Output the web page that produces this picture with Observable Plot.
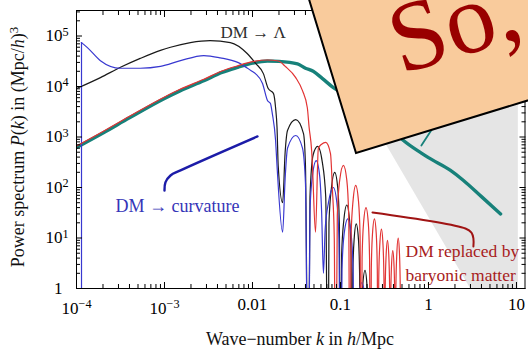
<!DOCTYPE html>
<html><head><meta charset="utf-8">
<script src="https://cdn.jsdelivr.net/npm/d3@7"></script>
<script src="https://cdn.jsdelivr.net/npm/@observablehq/plot@0.6"></script>
<style>
body{margin:0;background:#fff;}
#wrap{position:relative;width:528px;height:350px;overflow:hidden;background:#fff;}
#overlay{position:absolute;left:0;top:0;}
</style></head><body><div id="wrap"></div>
<script>
// ---- data (k in h/Mpc, P in (Mpc/h)^3) ----
const tealK = [1e-4, 2e-4, 4e-4, 1e-3, 1.5e-3, 2.8e-3, 4.5e-3, 6.8e-3, 0.01, 0.0148, 0.02, 0.0325, 0.04, 0.049, 0.062, 0.083, 0.11, 0.16, 0.25, 0.4, 0.52, 0.83, 1.0, 1.78, 2.5, 4.0, 6.6];
const tealP = [620, 1200, 2400, 5800, 8200, 13000, 19000, 24000, 29000, 32000, 31500, 28000, 23000, 20000, 14500, 9500, 7000, 4500, 2400, 1300, 850, 480, 390, 218, 138, 66, 30];

const redK = [1e-4, 2e-4, 4e-4, 1e-3, 1.5e-3, 2.8e-3, 4.5e-3, 6.8e-3, 0.01, 0.0148, 0.0197, 0.0236, 0.031, 0.037, 0.042, 0.044, 0.047, 0.048, 0.052,
  0.056, 0.061, 0.068, 0.077, 0.081, 0.085, 0.088,
  0.092, 0.098, 0.108, 0.118, 0.124, 0.128,
  0.132, 0.139, 0.149, 0.16, 0.167, 0.171,
  0.176, 0.183, 0.195, 0.207, 0.214, 0.219,
  0.224, 0.231, 0.243, 0.255, 0.262, 0.267,
  0.272, 0.28, 0.292, 0.304, 0.312, 0.317,
  0.322, 0.33, 0.342, 0.354, 0.362, 0.367,
  0.372, 0.38, 0.393, 0.406, 0.414, 0.42,
  0.426, 0.437, 0.453, 0.468, 0.478, 0.485, 0.55];
const redP = [665, 1290, 2570, 6200, 8800, 13900, 20300, 25700, 31000, 33500, 32000, 25000, 15000, 8300, 3800, 1550, 540, 270, 13,
  590, 720, 780, 470, 90, 10, 0.001,
  28, 140, 275, 140, 28, 0.001,
  11, 55, 110, 55, 11, 0.001,
  4, 20, 40, 20, 4, 0.001,
  2.4, 12, 24, 12, 2.4, 0.001,
  1.5, 7.5, 15, 7.5, 1.5, 0.001,
  0.9, 4.5, 9, 4.5, 0.9, 0.001,
  0.56, 2.8, 5.6, 2.8, 0.56, 0.001,
  1, 5, 10, 5, 1, 0.001, 0.0001];

const blackK = [1e-4, 1.87e-4, 3.16e-4, 5.3e-4, 9e-4, 1.17e-3, 1.97e-3, 3.3e-3, 5.6e-3, 8.7e-3, 0.0108, 0.0133, 0.0151, 0.0173, 0.0183, 0.019, 0.0196, 0.022,
  0.0235, 0.025, 0.031, 0.038, 0.04, 0.043,
  0.045, 0.049, 0.055, 0.062, 0.068, 0.072,
  0.074, 0.079, 0.086, 0.093, 0.097, 0.1,
  0.103, 0.109, 0.118, 0.127, 0.132, 0.135,
  0.138, 0.143, 0.151, 0.16, 0.165, 0.168,
  0.172, 0.179, 0.19, 0.2, 0.206, 0.21, 0.25];
const blackP = [9100, 15000, 24000, 36000, 52000, 60000, 74000, 81000, 74000, 45000, 29000, 18000, 9100, 7300, 3800, 1550, 270, 50,
  500, 1350, 2200, 1170, 270, 0.001,
  65, 450, 650, 325, 65, 0.001,
  20, 100, 200, 100, 20, 0.001,
  4.5, 22, 45, 22, 4.5, 0.001,
  1.9, 9.5, 19, 9.5, 1.9, 0.001,
  0.23, 1.15, 2.3, 1.15, 0.23, 0.001, 0.0001];

const blueK = [1.14e-4, 1.33e-4, 1.87e-4, 3.16e-4, 5.3e-4, 9e-4, 1.52e-3, 2.8e-3, 4.3e-3, 6.8e-3, 9.5e-3, 0.0108, 0.013, 0.0148, 0.016, 0.0168, 0.0183, 0.019, 0.022,
  0.0235, 0.025, 0.031, 0.037, 0.04, 0.043,
  0.045, 0.048, 0.053, 0.058, 0.061, 0.064,
  0.067, 0.073, 0.083, 0.091, 0.096, 0.1,
  0.104, 0.11, 0.121, 0.132, 0.139, 0.145,
  0.15, 0.16, 0.175, 0.19, 0.2, 0.21, 0.25];
const blueP = [74000, 59000, 32500, 23000, 23000, 25000, 32500, 41000, 37000, 30000, 21000, 18000, 11500, 5300, 4600, 2900, 850, 270, 13,
  150, 600, 1070, 600, 120, 0.001,
  34, 170, 340, 170, 34, 2,
  15, 50, 100, 50, 10, 0.001,
  2.4, 12, 24, 12, 2.4, 0.001,
  0.13, 0.65, 1.3, 0.65, 0.13, 0.001, 0.0001];
const blueEdgeK = [1.14e-4, 1.14e-4];
const blueEdgeP = [0.5, 74000];

// annotation pointer lines
const bluePtrK = [1e-3, 1.025e-3, 1.17e-3, 1.52e-3, 0.0114];
const bluePtrP = [87, 126, 173, 218, 1025];
const redPtrK = [0.231, 2.63, 3.08, 3.24, 3.24];
const redPtrP = [32, 15.4, 12.8, 9.8, 6.8];
const tealPtrK = [0.83, 1.11];
const tealPtrP = [680, 1470];

// shaded band
const bandK = [0.316, 3.0, 10.5];
const bandLo = [815, 1, 1];

// annotations
const annoText = ["DM \u2192 \u039b", "DM \u2192 curvature", "DM replaced by\nbaryonic matter"];
const annoK = [4.33e-3, 2.77e-4, 0.548];
const annoP = [9.3e4, 32, 1.44];

// ticks
const xTickValues = [1e-4, 1e-3, 0.01, 0.1, 1, 10];
const xTickLabels = ["10^\u22124", "10^\u22123", "0.01", "0.1", "1", "10"];
const yTickValues = [1, 10, 100, 1e3, 1e4, 1e5];
const yTickLabels = ["1", "10^1", "10^2", "10^3", "10^4", "10^5"];

const xMax = 12.5, yMax = 3.2e5;
const xMinor = [];
for (let e = -4; e <= 1; e++) for (let m = 2; m <= 9; m++) { const v = m * Math.pow(10, e); if (v < xMax) xMinor.push(v); }
const yMinor = [];
for (let e = 0; e <= 5; e++) for (let m = 2; m <= 9; m++) { const v = m * Math.pow(10, e); if (v < yMax) yMinor.push(v); }

const zip = (K, P) => K.map((k, i) => ({k, P: P[i]}));
const teal = zip(tealK, tealP), red = zip(redK, redP), black = zip(blackK, blackP), blue = zip(blueK, blueP);
const band = bandK.map((k, i) => ({k, lo: bandLo[i], hi: yMax}));
const anno = annoText.map((t, i) => ({t, k: annoK[i], P: annoP[i]}));

const lineOpts = {x: "k", y: "P", clip: true, curve: "monotone-x", strokeLinejoin: "round"};

const plot = Plot.plot({
  width: 528, height: 350,
  marginLeft: 76, marginRight: 3.5, marginTop: 10, marginBottom: 62,
  x: {type: "log", domain: [1e-4, xMax], label: null},
  y: {type: "log", domain: [1, yMax], label: null},
  style: {fontFamily: "Liberation Serif", fontSize: "17px", background: "white", color: "black"},
  marks: [
    Plot.areaY(band, {x: "k", y1: "lo", y2: "hi", fill: "#e5e5e5", clip: true}),
    Plot.line(teal, {...lineOpts, stroke: "#17817a", strokeWidth: 3.4}),
    Plot.line(black, {...lineOpts, stroke: "#1a1a1a", strokeWidth: 1.2}),
    Plot.line(blue, {...lineOpts, stroke: "#3838d0", strokeWidth: 1.2}),
    Plot.line(zip(blueEdgeK, blueEdgeP), {x: "k", y: "P", clip: true, stroke: "#3838d0", strokeWidth: 1.2}),
    Plot.line(red, {...lineOpts, stroke: "#e23434", strokeWidth: 1.2}),
    Plot.line(zip(bluePtrK, bluePtrP), {x: "k", y: "P", curve: "catmull-rom", stroke: "#1c1ca8", strokeWidth: 2.4, strokeLinecap: "round"}),
    Plot.line(zip(redPtrK, redPtrP), {x: "k", y: "P", curve: "catmull-rom", stroke: "#a01414", strokeWidth: 2, strokeLinejoin: "round"}),
    Plot.line(zip(tealPtrK, tealPtrP), {x: "k", y: "P", stroke: "#17817a", strokeWidth: 1.8}),
    Plot.text([anno[0]], {x: "k", y: "P", text: "t", textAnchor: "start", lineAnchor: "bottom", fontSize: 17, fill: "#2e2e2e"}),
    Plot.text([anno[1]], {x: "k", y: "P", text: "t", textAnchor: "start", lineAnchor: "bottom", fontSize: 18, fill: "#3535b8"}),
    Plot.text([anno[2]], {x: "k", y: "P", text: "t", textAnchor: "start", lineAnchor: "bottom", fontSize: 17.5, lineHeight: 1.36, fill: "#a81c1c"}),
    Plot.frame({stroke: "#000", strokeWidth: 1}),
    Plot.axisX({anchor: "bottom", ticks: xMinor, tickSize: 4, dy: -4, text: null, label: null}),
    Plot.axisX({anchor: "top", ticks: xMinor, tickSize: 4, dy: 4, text: null, label: null}),
    Plot.axisX({anchor: "bottom", ticks: xTickValues, tickSize: 6, dy: -6, text: null, label: null}),
    Plot.axisX({anchor: "top", ticks: xTickValues, tickSize: 6, dy: 6, text: null, label: null}),
    Plot.axisX({anchor: "bottom", ticks: xTickValues, tickSize: 0, tickPadding: 9, fontSize: 17, label: null,
      tickFormat: d => xTickLabels[xTickValues.indexOf(d)]}),
    Plot.axisY({anchor: "left", ticks: yMinor, tickSize: 4, dx: 4, text: null, label: null}),
    Plot.axisY({anchor: "right", ticks: yMinor, tickSize: 4, dx: -4, text: null, label: null}),
    Plot.axisY({anchor: "left", ticks: yTickValues, tickSize: 6, dx: 6, text: null, label: null}),
    Plot.axisY({anchor: "right", ticks: yTickValues, tickSize: 6, dx: -6, text: null, label: null}),
    Plot.axisY({anchor: "left", ticks: yTickValues, tickSize: 0, tickPadding: 8, fontSize: 17, label: null,
      tickFormat: d => yTickLabels[yTickValues.indexOf(d)]})
  ]
});
document.getElementById("wrap").appendChild(plot);

const svg = d3.select(plot);
// superscripts in tick labels
svg.selectAll('g[aria-label="x-axis tick label"] text, g[aria-label="y-axis tick label"] text').each(function () {
  const isX = this.parentNode.getAttribute("aria-label").startsWith("x");
  const s = this.textContent;
  if (s.includes("^")) {
    const [b, e] = s.split("^");
    this.textContent = "";
    const t1 = d3.select(this).append("tspan").text(b);
    if (isX) t1.attr("dy", 4);
    d3.select(this).append("tspan").attr("dy", "-0.45em").attr("font-size", "0.72em").text(e);
  } else if (!isX) {
    this.setAttribute("dx", -6);
  }
});

// axis titles
const yl = svg.append("text").attr("transform", "translate(24,147) rotate(-90)")
  .attr("text-anchor", "middle").attr("font-size", 18).attr("fill", "#111");
yl.append("tspan").text("Power spectrum ");
yl.append("tspan").attr("font-style", "italic").text("P");
yl.append("tspan").text("(");
yl.append("tspan").attr("font-style", "italic").text("k");
yl.append("tspan").text(") in (Mpc/");
yl.append("tspan").attr("font-style", "italic").text("h");
yl.append("tspan").text(")");
yl.append("tspan").attr("dy", "-0.45em").attr("font-size", "0.72em").text("3");

const xl = svg.append("text").attr("x", 300).attr("y", 345)
  .attr("text-anchor", "middle").attr("font-size", 18).attr("fill", "#111");
xl.append("tspan").text("Wave\u2212number ");
xl.append("tspan").attr("font-style", "italic").text("k");
xl.append("tspan").text(" in ");
xl.append("tspan").attr("font-style", "italic").text("h");
xl.append("tspan").text("/Mpc");

// slide overlay box
const ov = d3.select("#wrap").append("svg").attr("id", "overlay").attr("width", 528).attr("height", 350);
const g = ov.append("g").attr("transform", "translate(356,153) rotate(-17)");
g.append("rect").attr("x", 0).attr("y", -400).attr("width", 420).attr("height", 400)
  .attr("fill", "#f9cb9c").attr("stroke", "#000").attr("stroke-width", 2);
g.append("text").attr("x", 66).attr("y", -62).attr("font-family", "Liberation Serif")
  .attr("font-size", 100).attr("fill", "#990000").text("So,");
</script>
</body></html>
